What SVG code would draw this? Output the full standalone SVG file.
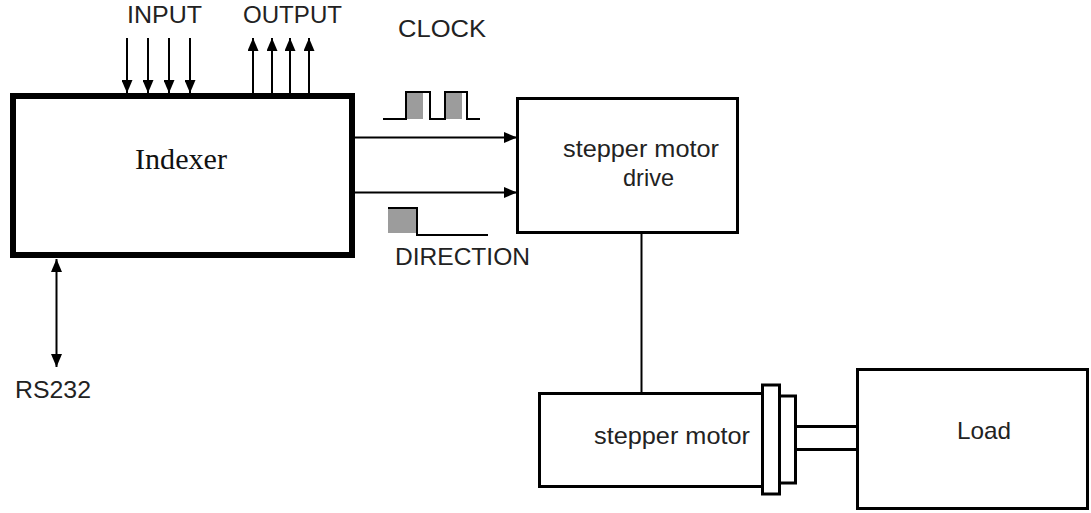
<svg xmlns="http://www.w3.org/2000/svg" width="1091" height="513" viewBox="0 0 1091 513">
<style>
.box{fill:#fff;stroke:#000;stroke-width:3}
.ln{fill:none;stroke:#000;stroke-width:2}
.t{font-family:"Liberation Sans",Arial,sans-serif;font-size:24px;fill:#222}
.s{font-family:"Liberation Serif","Times New Roman",serif;font-size:29px;fill:#111}
.g{fill:#9c9c9c}
</style>
<defs>
<marker id="ah" markerWidth="13" markerHeight="11" refX="13" refY="5.5" orient="auto" markerUnits="userSpaceOnUse">
<path d="M0,0 L13,5.5 L0,11 Z" fill="#000"/>
</marker>
<marker id="ahs" markerWidth="13" markerHeight="11" refX="13" refY="5.5" orient="auto-start-reverse" markerUnits="userSpaceOnUse">
<path d="M0,0 L13,5.5 L0,11 Z" fill="#000"/>
</marker>
</defs>
<rect width="1091" height="513" fill="#fff"/>
<g id="connectors">
<line class="ln" x1="127" y1="38" x2="127" y2="93" marker-end="url(#ah)"/>
<line class="ln" x1="148" y1="38" x2="148" y2="93" marker-end="url(#ah)"/>
<line class="ln" x1="169" y1="38" x2="169" y2="93" marker-end="url(#ah)"/>
<line class="ln" x1="190" y1="38" x2="190" y2="93" marker-end="url(#ah)"/>
<line class="ln" x1="253" y1="93" x2="253" y2="38" marker-end="url(#ah)"/>
<line class="ln" x1="272" y1="93" x2="272" y2="38" marker-end="url(#ah)"/>
<line class="ln" x1="290" y1="93" x2="290" y2="38" marker-end="url(#ah)"/>
<line class="ln" x1="309" y1="93" x2="309" y2="38" marker-end="url(#ah)"/>
<line class="ln" x1="355" y1="137.5" x2="517" y2="137.5" marker-end="url(#ah)"/>
<line class="ln" x1="355" y1="192.5" x2="517" y2="192.5" marker-end="url(#ah)"/>
<line class="ln" x1="56.5" y1="259" x2="56.5" y2="367" marker-start="url(#ahs)" marker-end="url(#ah)"/>
<line class="ln" x1="641.5" y1="233" x2="641.5" y2="393"/>
</g>
<g id="clock">
<rect class="g" x="407" y="92" width="16" height="27"/>
<rect class="g" x="446" y="92" width="16" height="27"/>
<path class="ln" d="M383,119 H406 V92 H430 V119 H445 V92 H467 V119 H480"/>
<text class="t" x="398" y="37" textLength="88" lengthAdjust="spacingAndGlyphs">CLOCK</text>
</g>
<g id="direction">
<rect class="g" x="388" y="208" width="29" height="25"/>
<path class="ln" d="M388,208 H417 V235 H488"/>
<text class="t" x="395" y="265" textLength="135" lengthAdjust="spacingAndGlyphs">DIRECTION</text>
</g>
<g id="indexer">
<rect x="13" y="96" width="339" height="159" fill="#fff" stroke="#000" stroke-width="6"/>
<text class="s" x="135" y="169" textLength="92" lengthAdjust="spacingAndGlyphs">Indexer</text>
</g>
<g id="labels">
<text class="t" x="127" y="23" textLength="75" lengthAdjust="spacingAndGlyphs">INPUT</text>
<text class="t" x="243" y="23" textLength="99" lengthAdjust="spacingAndGlyphs">OUTPUT</text>
<text class="t" x="15" y="398" textLength="76" lengthAdjust="spacingAndGlyphs">RS232</text>
</g>
<g id="drive">
<rect class="box" x="517.5" y="98.5" width="220" height="134"/>
<text class="t" x="563" y="157" textLength="156" lengthAdjust="spacingAndGlyphs">stepper motor</text>
<text class="t" x="623" y="186" textLength="51" lengthAdjust="spacingAndGlyphs">drive</text>
</g>
<g id="motor">
<rect class="box" x="539.5" y="393.5" width="223" height="93"/>
<rect class="box" x="762.5" y="385" width="17" height="109"/>
<rect class="box" x="779.5" y="396" width="16" height="87"/>
<rect class="box" x="795.5" y="426.5" width="62" height="23"/>
<text class="t" x="594" y="444" textLength="156" lengthAdjust="spacingAndGlyphs">stepper motor</text>
</g>
<g id="load">
<rect class="box" x="857.5" y="369.5" width="230" height="139"/>
<text class="t" x="957" y="439" textLength="54" lengthAdjust="spacingAndGlyphs">Load</text>
</g>
</svg>
